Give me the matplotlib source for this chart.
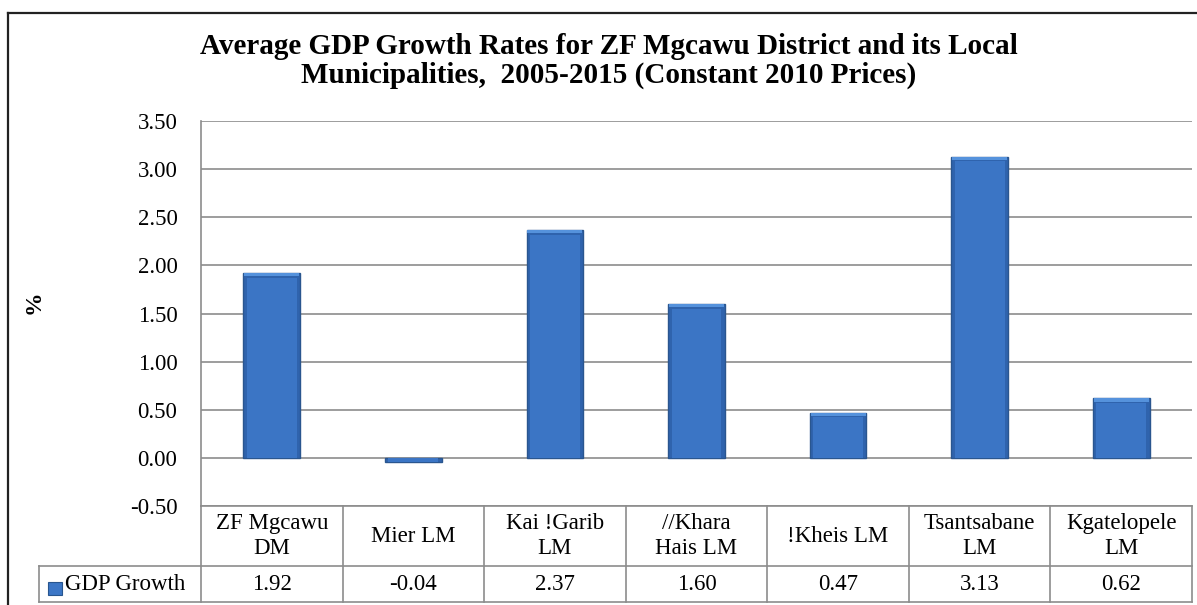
import matplotlib.pyplot as plt
import matplotlib as mpl
from matplotlib.lines import Line2D
from matplotlib.patches import Rectangle
import matplotlib.transforms as mtransforms

categories = ["ZF Mgcawu\nDM", "Mier LM", "Kai !Garib\nLM", "//Khara\nHais LM",
              "!Kheis LM", "Tsantsabane\nLM", "Kgatelopele\nLM"]
growth = [1.92, -0.04, 2.37, 1.60, 0.47, 3.13, 0.62]
series_name = "GDP Growth"
yticks = [-0.5, 0.0, 0.5, 1.0, 1.5, 2.0, 2.5, 3.0, 3.5]
title = ("Average GDP Growth Rates for ZF Mgcawu District and its Local\n"
         "Municipalities,  2005-2015 (Constant 2010 Prices)")

W, H = 1197, 605
mpl.rc("font", family="Liberation Serif", size=16.5)


def fx(px):
    return px / W


def fy(py):
    return 1 - py / H


fig = plt.figure(figsize=(W / 100, H / 100), dpi=100)
ax = fig.add_axes([fx(201), fy(506), fx(1192) - fx(201), fy(121) - fy(506)])

grid_c = "#8c8c8c"
n = len(categories)
x = list(range(n))
ax.set_xlim(-0.5, n - 0.5)
ax.set_ylim(-0.5, 3.5)
ax.set_yticks(yticks)
ax.set_yticklabels([f"{t:.2f}" for t in yticks])
ax.tick_params(axis="y", length=0, pad=17, labelsize=16.5)
ax.set_xticks([])
ax.yaxis.grid(True, color=grid_c, linewidth=1.2)
ax.set_axisbelow(True)
for s in ["top", "right", "bottom"]:
    ax.spines[s].set_visible(False)
ax.spines["left"].set_color(grid_c)
ax.spines["left"].set_linewidth(1.2)

# bars with a simple bevel look
bw = 0.4
ax.bar(x, growth, width=bw, color="#2f63ad", edgecolor="#2a568f", linewidth=1, zorder=3)
inner = [v - 0.05 if v > 0.2 else v for v in growth]
ax.bar(x, inner, width=bw * 0.88, color="#3b75c5", linewidth=0, zorder=4)
ax.bar(x, [0.035 if v > 0.2 else 0 for v in growth], bottom=[v - 0.035 for v in growth],
       width=bw * 0.97, color="#5592dc", linewidth=0, zorder=5)

ax.set_ylabel("%", fontweight="bold", fontsize=17, labelpad=0)
ax.yaxis.set_label_coords(fx(45), 0.5, transform=fig.transFigure)

fig.text(fx(609), fy(61), title, ha="center", va="center", fontsize=21,
         fontweight="bold", linespacing=1.12)

# data table below the plot
tr = mtransforms.blended_transform_factory(ax.transData, fig.transFigure)
y_top, y_mid, y_bot = fy(506), fy(566), fy(602)
lw = 1.2
fig.add_artist(Line2D([fx(201), fx(1192)], [y_top, y_top], color=grid_c, lw=lw))
fig.add_artist(Line2D([fx(39), fx(1192)], [y_mid, y_mid], color=grid_c, lw=lw))
fig.add_artist(Line2D([fx(39), fx(1192)], [y_bot, y_bot], color=grid_c, lw=lw))
fig.add_artist(Line2D([fx(39), fx(39)], [y_mid, y_bot], color=grid_c, lw=lw))
for b in range(n + 1):
    fig.add_artist(Line2D([b - 0.5, b - 0.5], [y_top, y_bot], color=grid_c, lw=lw,
                          transform=tr))
for i in x:
    fig.text(i, (y_top + y_mid) / 2, categories[i], transform=tr, ha="center",
             va="center", linespacing=1.25)
    fig.text(i, (y_mid + y_bot) / 2, f"{growth[i]:.2f}", transform=tr,
             ha="center", va="center")
fig.add_artist(Rectangle((fx(48), fy(595)), fx(14), fy(582) - fy(595),
                         facecolor="#3c76c6", edgecolor="#28558f", lw=0.8))
fig.text(fx(65), (y_mid + y_bot) / 2, series_name, ha="left", va="center")

# outer chart border
fig.add_artist(Line2D([fx(8), fx(8)], [0, fy(13)], color="#222222", lw=1.6))
fig.add_artist(Line2D([fx(8), 1], [fy(13), fy(13)], color="#222222", lw=1.6))

fig.savefig("out.png", dpi=100)
